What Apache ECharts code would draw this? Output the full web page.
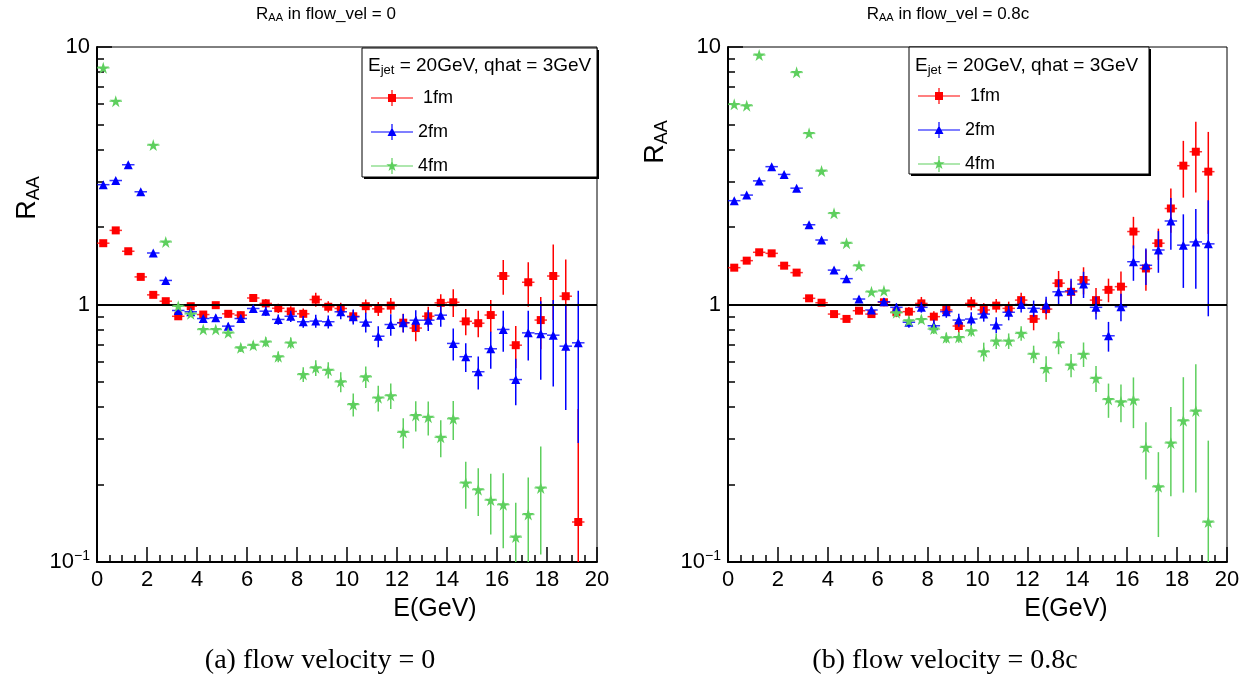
<!DOCTYPE html>
<html><head><meta charset="utf-8">
<script src="https://cdn.jsdelivr.net/npm/echarts@6/dist/echarts.min.js"></script>
<style>html,body{margin:0;padding:0;background:#fff}#c{width:1254px;height:679px}</style>
</head><body><div id="c"></div>
<script>
// ---------------- DATA ----------------
const energy = [0.25,0.75,1.25,1.75,2.25,2.75,3.25,3.75,4.25,4.75,5.25,5.75,6.25,6.75,7.25,7.75,8.25,8.75,9.25,9.75,
  10.25,10.75,11.25,11.75,12.25,12.75,13.25,13.75,14.25,14.75,15.25,15.75,16.25,16.75,17.25,17.75,18.25,18.75,19.25];
const xTickLabels = [0,2,4,6,8,10,12,14,16,18,20];
const yMajorTicks = [0.1, 1, 10];
const yMinorTicks = [0.2,0.3,0.4,0.5,0.6,0.7,0.8,0.9,2,3,4,5,6,7,8,9];
const seriesNames = [' 1fm', '2fm', '4fm'];
const panelTitles = ['in flow_vel = 0', 'in flow_vel = 0.8c'];
const captions = ['(a) flow velocity = 0', '(b) flow velocity = 0.8c'];
const legendHeader = 'E{s|jet} = 20GeV, qhat = 3GeV';

// flow_vel = 0
const raa0_1fm = [1.73,1.94,1.61,1.28,1.09,1.03,0.90,0.985,0.914,0.994,0.92,0.909,1.06,1.01,0.967,0.94,0.92,1.045,0.98,0.965,
  0.90,0.985,0.962,0.99,0.85,0.81,0.90,1.015,1.02,0.86,0.846,0.91,1.29,0.695,1.22,0.87,1.29,1.077,0.143];
const err0_1fm = [0.02,0.02,0.02,0.02,0.02,0.02,0.02,0.02,0.025,0.025,0.03,0.03,0.035,0.04,0.04,0.045,0.045,0.065,0.05,0.05,
  0.05,0.06,0.06,0.07,0.07,0.09,0.08,0.08,0.125,0.1,0.1,0.13,0.2,0.13,0.24,0.2,0.42,0.42,0.25];
const raa0_2fm = [2.92,3.03,3.49,2.74,1.585,1.24,0.948,0.937,0.882,0.888,0.824,0.882,0.965,0.942,0.875,0.90,0.857,0.862,0.857,0.937,
  0.896,0.854,0.753,0.836,0.849,0.869,0.869,0.909,0.706,0.627,0.548,0.673,0.80,0.511,0.776,0.77,0.76,0.689,0.71];
const err0_2fm = [0.03,0.03,0.03,0.03,0.02,0.02,0.02,0.02,0.02,0.025,0.025,0.03,0.035,0.04,0.04,0.045,0.045,0.05,0.05,0.06,
  0.06,0.075,0.07,0.08,0.07,0.08,0.08,0.09,0.1,0.08,0.08,0.11,0.145,0.105,0.17,0.26,0.28,0.3,0.42];
const raa0_4fm = [8.3,6.16,null,null,4.16,1.75,0.985,0.92,0.80,0.80,0.776,0.679,0.695,0.716,0.627,0.71,0.535,0.568,0.556,0.501,
  0.409,0.524,0.434,0.443,0.319,0.371,0.365,0.305,0.36,0.203,0.191,0.174,0.167,0.125,0.153,0.194,null,null,null];
const err0_4fm = [0.1,0.08,null,null,0.06,0.03,0.02,0.02,0.02,0.02,0.02,0.025,0.025,0.03,0.03,0.035,0.035,0.04,0.04,0.045,
  0.042,0.05,0.05,0.05,0.043,0.05,0.055,0.05,0.062,0.042,0.04,0.046,0.054,0.045,0.06,0.087,null,null,null];

// flow_vel = 0.8c
const raa8_1fm = [1.39,1.48,1.595,1.58,1.415,1.33,1.057,1.016,0.918,0.879,0.946,0.918,1.02,0.933,0.938,1.01,0.897,0.952,0.825,1.01,
  0.952,0.99,0.966,1.04,0.879,0.96,1.21,1.12,1.245,1.04,1.14,1.173,1.92,1.38,1.73,2.36,3.46,3.92,3.28];
const err8_1fm = [0.02,0.02,0.02,0.02,0.02,0.02,0.02,0.02,0.025,0.025,0.03,0.03,0.035,0.04,0.04,0.06,0.045,0.05,0.05,0.06,
  0.06,0.06,0.06,0.07,0.085,0.085,0.14,0.12,0.15,0.12,0.12,0.17,0.27,0.25,0.24,0.46,0.86,1.2,1.4];
const raa8_2fm = [2.53,2.66,3.02,3.43,3.20,2.83,2.04,1.78,1.36,1.26,1.05,0.952,1.025,0.975,0.853,0.975,0.827,0.938,0.87,0.878,
  0.918,0.833,0.933,1.0,0.966,0.996,1.12,1.13,1.20,0.975,0.756,0.98,1.466,1.42,1.628,2.11,1.70,1.75,1.72];
const err8_2fm = [0.03,0.03,0.03,0.03,0.03,0.03,0.03,0.03,0.03,0.03,0.03,0.03,0.035,0.035,0.04,0.045,0.045,0.05,0.05,0.055,
  0.06,0.06,0.065,0.07,0.07,0.075,0.13,0.13,0.14,0.1,0.1,0.12,0.23,0.23,0.3,0.48,0.54,0.6,0.82];
const raa8_4fm = [5.99,5.92,9.31,null,null,7.97,4.62,3.30,2.26,1.73,1.415,1.12,1.13,0.929,0.865,0.876,0.803,0.743,0.745,0.791,
  0.656,0.722,0.722,0.773,0.642,0.565,0.711,0.582,0.642,0.517,0.428,0.419,0.426,0.279,0.196,0.29,0.354,0.386,0.143];
const err8_4fm = [0.06,0.06,0.1,null,null,0.1,0.05,0.04,0.03,0.03,0.025,0.025,0.025,0.03,0.03,0.03,0.035,0.035,0.035,0.04,
  0.055,0.05,0.05,0.05,0.05,0.065,0.07,0.06,0.07,0.06,0.065,0.07,0.095,0.07,0.071,0.11,0.168,0.2,0.153];

// ---------------- STYLE ----------------
const FONT = "'Liberation Sans', Arial, Helvetica, sans-serif";
const SERIF = "'Liberation Serif', 'Times New Roman', serif";
const colors = ['#ff0000', '#0000ff', '#5ecf5e'];
const STAR = 'path://M50,0L61.2,34.5L97.6,34.5L68.2,55.9L79.4,90.5L50,69.1L20.6,90.5L31.8,55.9L2.4,34.5L38.8,34.5Z';
const symbols = ['rect', 'triangle', STAR];
const symbolSizes = [8, [9, 9], 12];
const legendIcons = [
  'path://M0,7.4H42V8.6H0ZM20.4,0H21.6V16H20.4ZM17,4H25V12H17Z',
  'path://M0,7.4H42V8.6H0ZM20.4,0H21.6V16H20.4ZM16.5,12L21,3.5L25.5,12Z',
  'path://M0,7.4H42V8.6H0ZM20.4,0H21.6V16H20.4ZM21,2L22.4,6.2L26.7,6.2L23.2,8.8L24.5,13L21,10.4L17.5,13L18.8,8.8L15.3,6.2L19.6,6.2Z'
];
const BIN_HALF = 0.25;

const panels = [
  { grid: {left: 97, top: 47, width: 500, height: 515}, vals: [raa0_1fm, raa0_2fm, raa0_4fm], errs: [err0_1fm, err0_2fm, err0_4fm] },
  { grid: {left: 728, top: 47, width: 499, height: 515}, vals: [raa8_1fm, raa8_2fm, raa8_4fm], errs: [err8_1fm, err8_2fm, err8_4fm] }
];

const chart = echarts.init(document.getElementById('c'), null, {renderer: 'canvas'});

const grids = [], xAxes = [], yAxes = [], series = [];
panels.forEach((p, i) => {
  grids.push(Object.assign({show: true, borderColor: '#000', borderWidth: 1, backgroundColor: 'transparent', containLabel: false, outerBoundsMode: 'none'}, p.grid));
  xAxes.push({
    type: 'value', gridIndex: i, min: 0, max: 20, interval: 2, position: 'bottom',
    axisLine: {show: true, onZero: false, lineStyle: {color: '#000', width: 2}},
    axisTick: {show: true, inside: true, length: 15, lineStyle: {color: '#000', width: 1.5}},
    minorTick: {show: true, splitNumber: 4, length: 7, lineStyle: {color: '#000', width: 1.5}},
    splitLine: {show: false}, minorSplitLine: {show: false},
    axisLabel: {color: '#000', fontSize: 22, fontFamily: FONT, margin: 7, showMinLabel: true, showMaxLabel: true,
      customValues: xTickLabels}
  });
  yAxes.push({
    type: 'log', logBase: 10, gridIndex: i, min: 0.1, max: 10, position: 'left',
    axisLine: {show: true, onZero: false, lineStyle: {color: '#000', width: 2}},
    axisTick: {show: true, inside: true, length: 15, customValues: yMajorTicks, lineStyle: {color: '#000', width: 1.5}},
    splitLine: {show: false},
    axisLabel: {
      customValues: yMajorTicks, color: '#000', fontSize: 22, fontFamily: FONT, margin: 7,
      formatter: v => (v < 0.5 ? '{b|10}{p|\u22121}' : (v < 5 ? '1' : '10')),
      rich: {b: {fontSize: 22, fontFamily: FONT, color: '#000'}, p: {fontSize: 14, fontFamily: FONT, color: '#000', padding: [0, 0, 12, 0]}}
    }
  });
  yAxes.push({
    type: 'log', logBase: 10, gridIndex: i, min: 0.1, max: 10, position: 'left',
    axisLine: {show: false},
    axisTick: {show: true, inside: true, length: 7, customValues: yMinorTicks, lineStyle: {color: '#000', width: 1.5}},
    axisLabel: {show: false}, splitLine: {show: false}
  });
  for (let k = 0; k < 3; k++) {
    const rows = [];
    energy.forEach((x, j) => { const y = p.vals[k][j]; if (y != null) rows.push([x, y, p.errs[k][j]]); });
    const col = colors[k];
    series.push({
      type: 'custom', name: seriesNames[k], xAxisIndex: i, yAxisIndex: 2 * i, z: 2 + 2 * k, clip: true,
      itemStyle: {color: col}, data: rows, encode: {x: 0, y: 1},
      renderItem: (params, api) => {
        const x = api.value(0), y = api.value(1), e = api.value(2);
        const lo = Math.max(y - e, 0.1), hi = Math.min(y + e, 10);
        const c = api.coord([x, y]);
        const cl = api.coord([x, lo]), ch = api.coord([x, hi]);
        const xl = api.coord([x - BIN_HALF, y]), xr = api.coord([x + BIN_HALF, y]);
        return {type: 'group', children: [
          {type: 'line', shape: {x1: c[0], y1: cl[1], x2: c[0], y2: ch[1]}, style: {stroke: col, lineWidth: 1.5}},
          {type: 'line', shape: {x1: xl[0], y1: c[1], x2: xr[0], y2: c[1]}, style: {stroke: col, lineWidth: 1.5, opacity: 0.8}}
        ]};
      }
    });
    const sc = {
      type: 'scatter', name: seriesNames[k], xAxisIndex: i, yAxisIndex: 2 * i, z: 3 + 2 * k,
      symbol: symbols[k], symbolSize: symbolSizes[k], itemStyle: {color: col, opacity: 1},
      data: rows.map(r => [r[0], r[1]]), silent: true
    };
    if (k === 0) {
      sc.markLine = {silent: true, symbol: 'none', label: {show: false}, animation: false,
        lineStyle: {color: '#000', width: 2, type: 'solid'}, data: [{yAxis: 1}]};
    }
    series.push(sc);
  }
});

const legendCommon = {
  orient: 'vertical', padding: 0, itemWidth: 42, itemHeight: 16, itemGap: 16, itemTextGap: 8,
  selectedMode: false, textStyle: {fontSize: 18, fontFamily: FONT, color: '#000', lineHeight: 16},
  data: seriesNames.map((n, k) => ({name: n, icon: legendIcons[k]}))
};

const sub = (fs) => ({fontSize: fs, fontFamily: FONT, fill: '#000', padding: [Math.round(fs * 0.7), 0, 0, 0]});

const graphic = [];
// legend boxes
[[362, 48, 235, 129], [909, 47, 240, 127]].forEach(b => {
  graphic.push({type: 'rect', z: 1, shape: {x: b[0] + 2, y: b[1] + 2, width: b[2], height: b[3]}, style: {fill: '#000'}});
  graphic.push({type: 'rect', z: 2, shape: {x: b[0], y: b[1], width: b[2], height: b[3]}, style: {fill: '#fff', stroke: '#000', lineWidth: 1}});
});
[[368, 66], [915, 66]].forEach(h => {
  graphic.push({type: 'text', z: 3, x: h[0], y: h[1], style: {text: legendHeader, fontSize: 19, fontFamily: FONT, fill: '#000',
    verticalAlign: 'middle', align: 'left', rich: {s: sub(13)}}});
});
// panel titles
[[326, 14], [948, 14]].forEach((t, i) => {
  graphic.push({type: 'text', x: t[0], y: t[1], style: {text: 'R{s|AA} ' + panelTitles[i], fontSize: 17, fontFamily: FONT, fill: '#000',
    align: 'center', verticalAlign: 'middle', rich: {s: sub(11)}}});
});
// y-axis titles
[[28, 198], [656, 142]].forEach(t => {
  graphic.push({type: 'text', x: t[0], y: t[1], rotation: Math.PI / 2, style: {text: 'R{s|AA}', fontSize: 27, fontFamily: FONT, fill: '#000',
    align: 'center', verticalAlign: 'middle', rich: {s: sub(18)}}});
});
// x-axis titles
[[435, 609], [1066, 609]].forEach(t => {
  graphic.push({type: 'text', x: t[0], y: t[1], style: {text: 'E(GeV)', fontSize: 25, fontFamily: FONT, fill: '#000', align: 'center', verticalAlign: 'middle'}});
});
// captions
[[320, 661], [945, 661]].forEach((t, i) => {
  graphic.push({type: 'text', x: t[0], y: t[1], style: {text: captions[i], fontSize: 28, fontFamily: SERIF, fill: '#000', align: 'center', verticalAlign: 'middle'}});
});

chart.setOption({
  backgroundColor: '#fff',
  animation: false,
  grid: grids, xAxis: xAxes, yAxis: yAxes, series: series,
  legend: [
    Object.assign({left: 371, top: 89}, legendCommon),
    Object.assign({left: 918, top: 87}, legendCommon)
  ],
  graphic: graphic
});
</script>
</body></html>
